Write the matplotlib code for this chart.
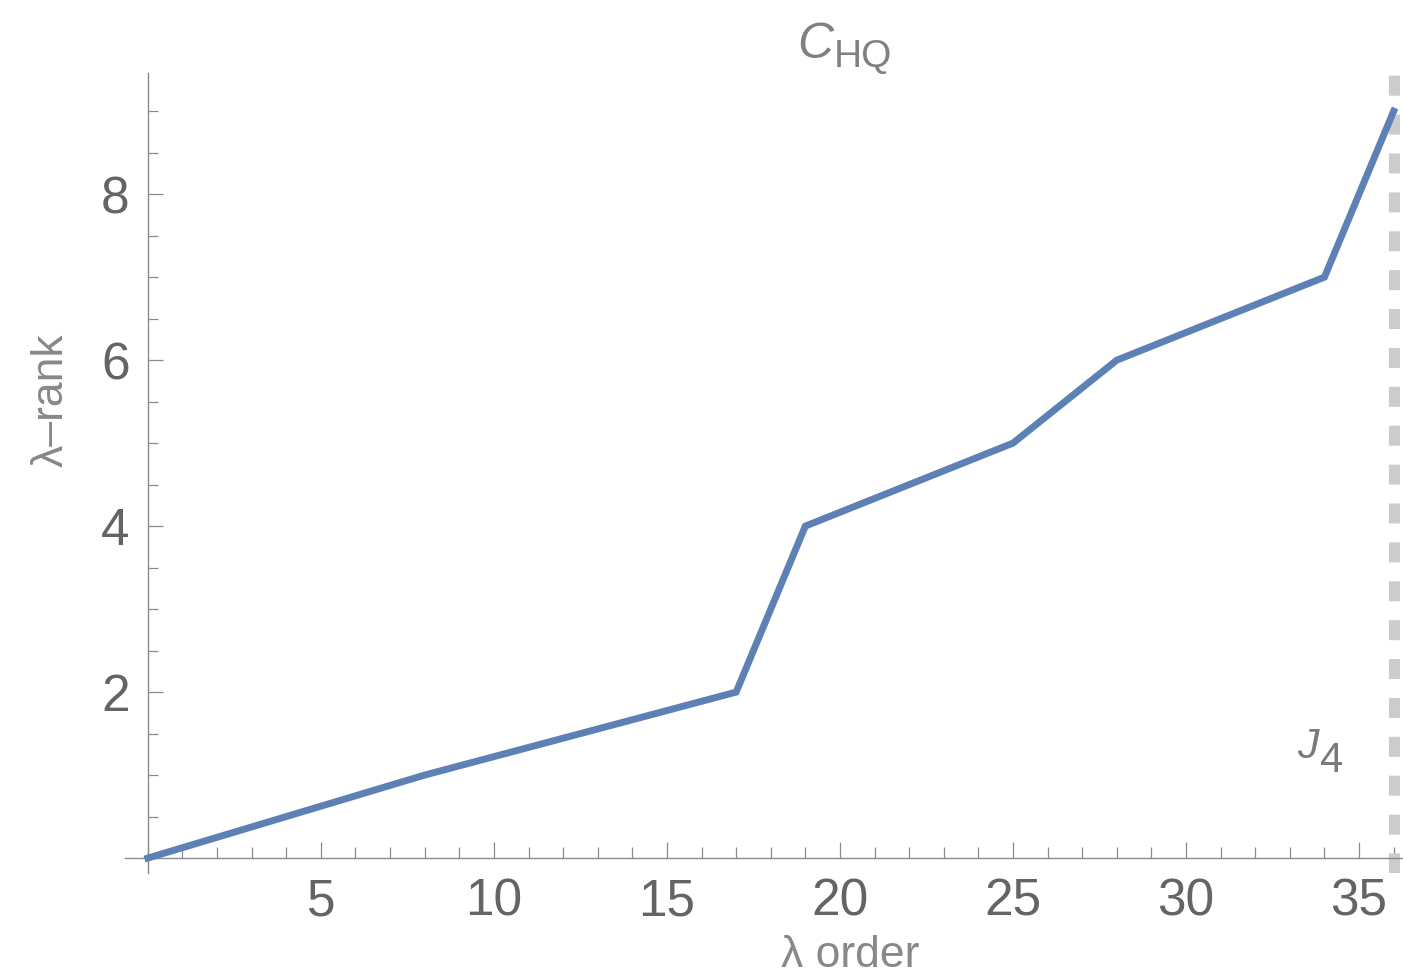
import matplotlib
matplotlib.use("Agg")
import matplotlib.pyplot as plt
from matplotlib.ticker import MultipleLocator, FixedLocator

# ------------------ Data ------------------
lam_order = [0, 8, 17, 19, 25, 28, 34, 36]
lam_rank = [0, 1, 2, 4, 5, 6, 7, 9]
x_major = [5, 10, 15, 20, 25, 30, 35]
y_major = [2, 4, 6, 8]
j4_pos = 36

# ------------------ Style ------------------
plt.rcParams["font.family"] = ["Liberation Sans", "DejaVu Sans"]

line_col = "#5E81B5"
axis_col = "#8a8a8a"
tick_txt = "#646464"
label_col = "#888888"

fig = plt.figure(figsize=(14.03, 9.8), dpi=100)
ax = fig.add_axes([125 / 1403, 107 / 980, 1278 / 1403, 800 / 980])

ax.plot(lam_order, lam_rank, color=line_col, lw=5, solid_joinstyle="miter", zorder=3)
ax.axvline(j4_pos, color="#cccccc", lw=8, dashes=(1.8, 1.7), zorder=2)

ax.set_xlim(-0.66, 36.27)
ax.set_ylim(-0.18, 9.46)

# axes through origin, Mathematica-like
for s in ["top", "right"]:
    ax.spines[s].set_visible(False)
ax.spines["left"].set_position(("data", 0))
ax.spines["bottom"].set_position(("data", 0))
for s in ["left", "bottom"]:
    ax.spines[s].set_color(axis_col)
    ax.spines[s].set_linewidth(1.0)

ax.xaxis.set_major_locator(FixedLocator(x_major))
ax.xaxis.set_minor_locator(MultipleLocator(1))
ax.yaxis.set_major_locator(FixedLocator(y_major))
ax.yaxis.set_minor_locator(MultipleLocator(0.5))

ax.tick_params(axis="x", which="major", direction="in", length=11.5, width=0.9,
               color=axis_col, labelsize=37, labelcolor=tick_txt, pad=14)
ax.tick_params(axis="x", which="minor", direction="in", length=8, width=0.9, color=axis_col)
ax.tick_params(axis="y", which="major", direction="in", length=10.5, width=0.9,
               color=axis_col, labelsize=37, labelcolor=tick_txt, pad=13)
ax.tick_params(axis="y", which="minor", direction="in", length=7, width=0.9, color=axis_col)

ax.set_xlabel("λ order", fontsize=32, color=label_col)
ax.xaxis.set_label_coords((850 - 125) / 1278, (873 - 955) / 800)
ax.xaxis.label.set_va("center")

ax.set_ylabel("λ–rank", fontsize=32, color=label_col)
ax.yaxis.set_label_coords((51 - 125) / 1278, (873 - 400) / 800)
ax.yaxis.label.set_va("center")

# title C_HQ : italic C, upright subscript
ax.set_title("C", fontsize=36, style="italic", color="#808080",
             x=(797 - 125) / 1278, y=(873 - 58) / 800, pad=0, ha="left")
ax.text((834 - 125) / 1278, (873 - 67) / 800, "HQ", transform=ax.transAxes,
        fontsize=28, color="#808080", ha="left", va="baseline")

# J_4 label next to the dashed line
ax.text(33.21, 1.206, "J", fontsize=31, style="italic", color="#7a7a7a",
        ha="left", va="baseline")
ax.text(33.87, 1.037, "4", fontsize=30, color="#7a7a7a", ha="left", va="baseline")

plt.savefig("out.png", dpi=100)
